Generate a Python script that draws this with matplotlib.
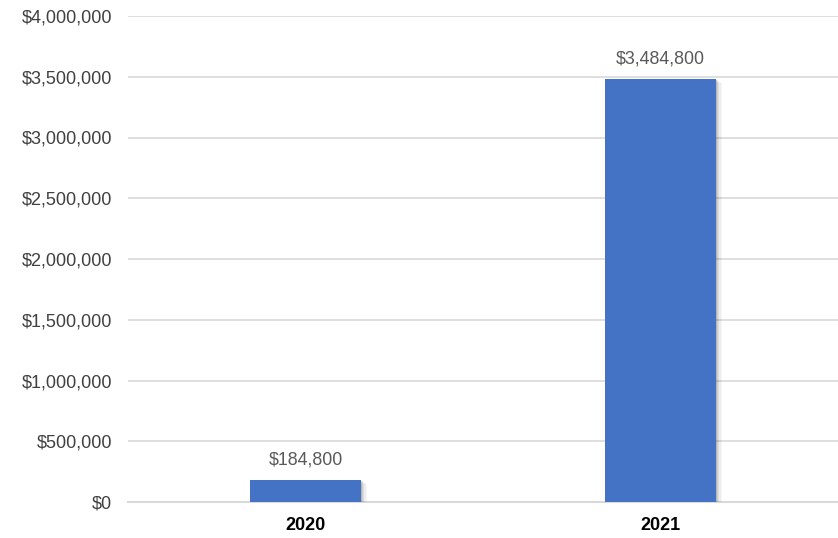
import matplotlib
matplotlib.use("Agg")
import matplotlib.pyplot as plt
from matplotlib.ticker import FuncFormatter, MultipleLocator
from matplotlib.patches import Rectangle

years = ["2020", "2021"]
revenue = [184800, 3484800]

bar_color = "#4472C4"
grid_color = "#D9D9D9"

plt.rcParams["font.family"] = ["Liberation Sans", "DejaVu Sans"]

fig = plt.figure(figsize=(8.38, 5.38), dpi=100)
ax = fig.add_axes([128 / 838, 1 - 502 / 538, 1 - 128 / 838, (502 - 16) / 538])

x = list(range(len(years)))
width = 0.31

# soft drop shadow under each bar
for xi, v in zip(x, revenue):
    for k, a in enumerate([0.10, 0.08, 0.06, 0.04, 0.03]):
        off = 0.004 + k * 0.0035
        ax.add_patch(Rectangle((xi - width / 2 + off, -9000 - k * 6000),
                               width, v, facecolor="black", alpha=a,
                               edgecolor="none", zorder=2))

ax.bar(x, revenue, width=width, color=bar_color, zorder=3)

for xi, v in zip(x, revenue):
    ax.annotate(f"${v:,.0f}", (xi, v), xytext=(0, 8), textcoords="offset points",
                ha="center", va="bottom", fontsize=12.8, color="#595959", zorder=4)

ax.set_xlim(-0.5, 1.5)
ax.set_ylim(0, 4000000)
ax.yaxis.set_major_locator(MultipleLocator(500000))
ax.yaxis.set_major_formatter(FuncFormatter(lambda v, p: f"${v:,.0f}"))
ax.set_xticks(x)
ax.set_xticklabels(years, fontweight="bold", fontsize=13, color="black")
ax.tick_params(axis="y", length=0, pad=11.5, labelsize=13, labelcolor="#404040")
ax.tick_params(axis="x", length=0, pad=11)

ax.grid(axis="y", color=grid_color, linewidth=1.2, zorder=0)
ax.set_axisbelow(True)
for s in ["top", "right", "left"]:
    ax.spines[s].set_visible(False)
ax.spines["bottom"].set_color(grid_color)
ax.spines["bottom"].set_linewidth(1.5)
ax.spines["bottom"].set_zorder(1)

fig.savefig("out.png", dpi=100)
